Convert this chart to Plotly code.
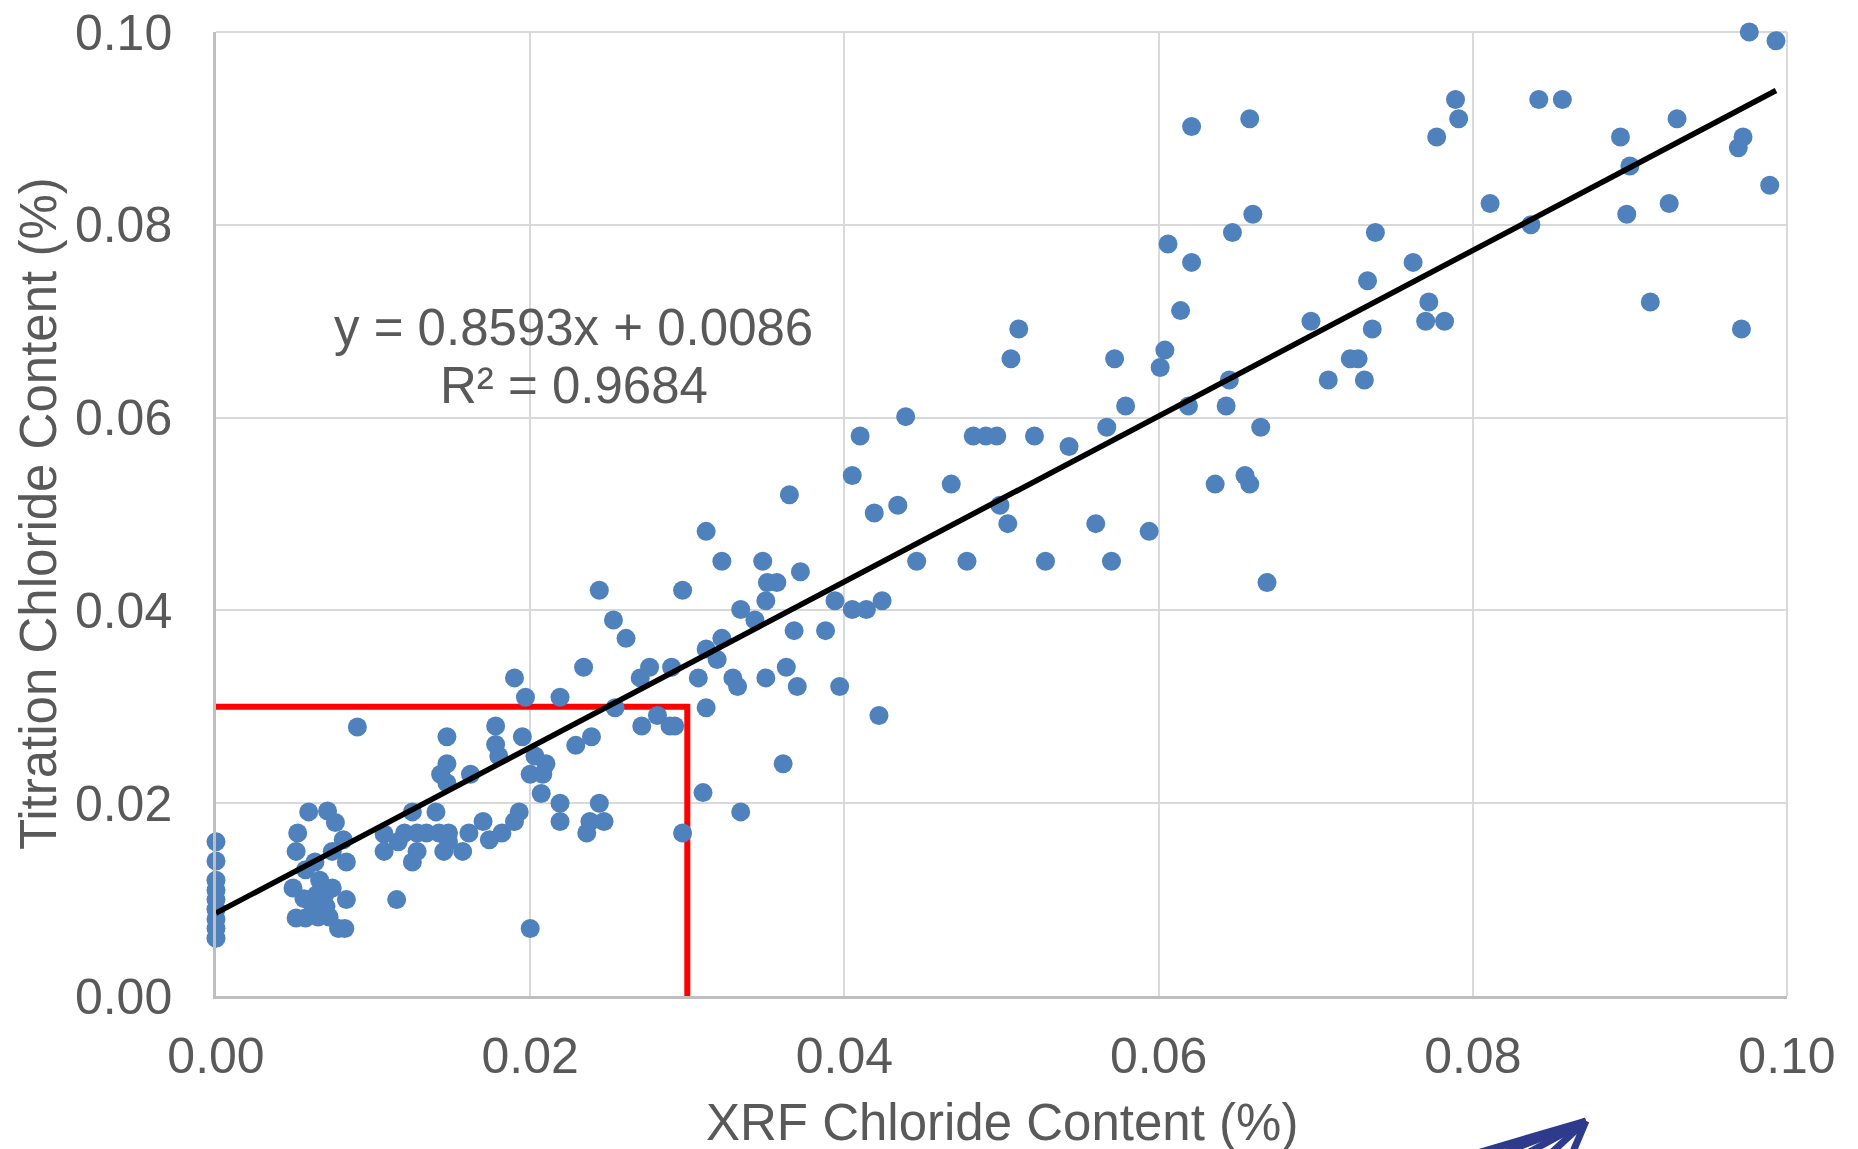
import plotly.graph_objects as go

# XRF chloride content (%) vs titration chloride content (%)
xrf = [
    0.0, 0.0, 0.0, 0.0, 0.0, 0.0, 0.0, 0.0, 0.0,
    0.0059, 0.0071, 0.0076, 0.0052, 0.0051, 0.0081, 0.0074, 0.0083, 0.0063, 0.0057,
    0.0066, 0.0049, 0.0074, 0.0056, 0.0064, 0.0070, 0.0083, 0.0062, 0.0070, 0.0051,
    0.0057, 0.0065, 0.0072, 0.0078, 0.0082,
    0.0107, 0.0116, 0.0107, 0.0120, 0.0128, 0.0134, 0.0125, 0.0140, 0.0125, 0.0128,
    0.0142, 0.0148, 0.0161, 0.0145, 0.0157, 0.0148, 0.0170, 0.0174, 0.0182, 0.0190,
    0.0193, 0.0207, 0.0219, 0.0219, 0.0244, 0.0247, 0.0238, 0.0236, 0.0115, 0.0200,
    0.0147, 0.0147, 0.0143, 0.0147, 0.0162, 0.0178, 0.0178, 0.0180, 0.0195, 0.0203,
    0.0210, 0.0200, 0.0208, 0.0229, 0.0239, 0.0090, 0.0190, 0.0197, 0.0219, 0.0234,
    0.0244, 0.0253, 0.0261, 0.0254, 0.0270, 0.0276, 0.0290, 0.0271, 0.0281, 0.0289,
    0.0292, 0.0297, 0.0312, 0.0307, 0.0312, 0.0319, 0.0322, 0.0329, 0.0332, 0.0350,
    0.0363, 0.0370, 0.0397, 0.0368, 0.0388, 0.0334, 0.0343, 0.0350, 0.0351, 0.0357,
    0.0348, 0.0322, 0.0312, 0.0372, 0.0394, 0.0405, 0.0414, 0.0424, 0.0422, 0.0310,
    0.0361, 0.0334, 0.0297,
    0.0365, 0.0405, 0.0410, 0.0439, 0.0419, 0.0434, 0.0446, 0.0468, 0.0478, 0.0482,
    0.0490, 0.0497, 0.0521, 0.0567, 0.0543, 0.0499, 0.0504, 0.0528, 0.0560, 0.0570,
    0.0594, 0.0669, 0.0579, 0.0619, 0.0643, 0.0665, 0.0636, 0.0655, 0.0658, 0.0645,
    0.0506, 0.0511, 0.0572, 0.0604, 0.0601, 0.0614, 0.0621, 0.0606, 0.0647, 0.0660,
    0.0621, 0.0658,
    0.0697, 0.0708, 0.0731, 0.0722, 0.0727, 0.0736, 0.0733, 0.0738, 0.0762, 0.0772,
    0.0770, 0.0782, 0.0777, 0.0789, 0.0791, 0.0811, 0.0837, 0.0842, 0.0857, 0.0894,
    0.0900, 0.0898, 0.0913, 0.0925, 0.0930, 0.0969, 0.0972, 0.0971, 0.0989, 0.0976,
    0.0993,
]
titration = [
    0.016, 0.014, 0.012, 0.011, 0.010, 0.009, 0.008, 0.007, 0.006,
    0.0191, 0.0192, 0.0180, 0.0169, 0.0150, 0.0162, 0.0150, 0.0139, 0.0139, 0.0131,
    0.0120, 0.0112, 0.0112, 0.0101, 0.0105, 0.0107, 0.0100, 0.0091, 0.0093, 0.0081,
    0.0081, 0.0082, 0.0082, 0.0070, 0.0070,
    0.0168, 0.0160, 0.0150, 0.0169, 0.0169, 0.0169, 0.0191, 0.0191, 0.0139, 0.0150,
    0.0169, 0.0169, 0.0169, 0.0150, 0.0150, 0.0160, 0.0181, 0.0162, 0.0169, 0.0181,
    0.0191, 0.0210, 0.0200, 0.0181, 0.0200, 0.0181, 0.0181, 0.0169, 0.0100, 0.0070,
    0.0269, 0.0241, 0.0230, 0.0221, 0.0230, 0.0280, 0.0261, 0.0249, 0.0269, 0.0249,
    0.0241, 0.0230, 0.0230, 0.0260, 0.0269, 0.0279, 0.0330, 0.0310, 0.0310, 0.0341,
    0.0421, 0.0390, 0.0371, 0.0299, 0.0330, 0.0341, 0.0341, 0.0280, 0.0291, 0.0280,
    0.0280, 0.0421, 0.0299, 0.0330, 0.0360, 0.0349, 0.0371, 0.0330, 0.0321, 0.0330,
    0.0341, 0.0321, 0.0321, 0.0379, 0.0379, 0.0401, 0.0390, 0.0410, 0.0429, 0.0429,
    0.0451, 0.0451, 0.0482, 0.0440, 0.0410, 0.0401, 0.0401, 0.0410, 0.0291, 0.0211,
    0.0241, 0.0191, 0.0169,
    0.0520, 0.0540, 0.0581, 0.0601, 0.0501, 0.0509, 0.0451, 0.0531, 0.0451, 0.0581,
    0.0581, 0.0581, 0.0581, 0.0590, 0.0570, 0.0509, 0.0490, 0.0451, 0.0490, 0.0451,
    0.0482, 0.0429, 0.0612, 0.0612, 0.0612, 0.0590, 0.0531, 0.0540, 0.0531, 0.0639,
    0.0661, 0.0692, 0.0661, 0.0670, 0.0652, 0.0711, 0.0761, 0.0780, 0.0792, 0.0811,
    0.0902, 0.0910,
    0.0700, 0.0639, 0.0639, 0.0661, 0.0661, 0.0692, 0.0742, 0.0792, 0.0761, 0.0720,
    0.0700, 0.0700, 0.0891, 0.0930, 0.0910, 0.0822, 0.0800, 0.0930, 0.0930, 0.0891,
    0.0861, 0.0811, 0.0720, 0.0822, 0.0910, 0.0880, 0.0891, 0.0692, 0.0841, 0.1000,
    0.0991,
]

# Linear trendline (from the chart's equation) and the 0.03 % limit box
slope = 0.8593
intercept = 0.0086
r_squared = 0.9684
limit = 0.03

tick_vals = [0.00, 0.02, 0.04, 0.06, 0.08, 0.10]
tick_text = ["0.00", "0.02", "0.04", "0.06", "0.08", "0.10"]

trend_x = [min(xrf), max(xrf)]
trend_y = [slope * v + intercept for v in trend_x]

TEXT = "#595959"
FONT = "Liberation Sans, Arial, sans-serif"
GRID = "#D9D9D9"

# page body has an 8 px margin; plot area targets x 216..1787, y 32..996
PL, PR, PT, PB = 216, 1787, 32, 996
def px(X):
    return (X - PL) / (PR - PL)
def py(Y):
    return (PB - Y) / (PB - PT)

fig = go.Figure()

fig.add_trace(go.Scatter(
    x=[0, limit, limit], y=[limit, limit, 0], mode="lines",
    line=dict(color="#FF0000", width=6), cliponaxis=False, showlegend=False,
))
fig.add_trace(go.Scatter(
    x=xrf, y=titration, mode="markers",
    marker=dict(size=19, color="#4F81BD", line=dict(width=0)),
    cliponaxis=False, showlegend=False,
))
fig.add_trace(go.Scatter(
    x=trend_x, y=trend_y, mode="lines",
    line=dict(color="#000000", width=5.5), cliponaxis=False, showlegend=False,
))

axis_common = dict(
    range=[0, 0.1], tickvals=tick_vals, ticktext=tick_text,
    showgrid=True, gridcolor=GRID, gridwidth=2,
    zeroline=False, showline=True, linecolor="#BFBFBF", linewidth=2.5,
    ticks="outside", tickcolor="rgba(0,0,0,0)", automargin=False,
    ticklabeloverflow="allow",
    tickfont=dict(family=FONT, size=50, color=TEXT),
)

shapes = [
    # top and right edges of the plot frame (same as gridlines)
    dict(type="line", xref="paper", yref="paper", x0=0, x1=1, y0=1, y1=1,
         line=dict(color=GRID, width=2), layer="below"),
    dict(type="line", xref="paper", yref="paper", x0=1, x1=1, y0=0, y1=1,
         line=dict(color=GRID, width=2), layer="below"),
]
# partial logo fan at the bottom-right edge
for bx in [1474, 1500, 1526, 1550, 1572]:
    shapes.append(dict(
        type="line", xref="paper", yref="paper",
        x0=px(1586), y0=py(1121), x1=px(bx), y1=py(1154),
        line=dict(color="#2E3A8C", width=7),
    ))

fig.update_layout(
    width=1850, height=1141,
    margin=dict(l=208, r=71, t=24, b=153),
    paper_bgcolor="white", plot_bgcolor="white",
    xaxis=dict(**axis_common, ticklen=14),
    yaxis=dict(**axis_common, ticklen=31),
    shapes=shapes,
    annotations=[
        dict(text=f"y = {slope}x + {intercept}", xref="paper", yref="paper",
             x=px(573.5), y=py(327), showarrow=False,
             xanchor="center", yanchor="middle",
             font=dict(family=FONT, size=51, color=TEXT)),
        dict(text=f"R² = {r_squared}", xref="paper", yref="paper",
             x=px(573.5), y=py(385), showarrow=False,
             xanchor="center", yanchor="middle",
             font=dict(family=FONT, size=51, color=TEXT)),
        dict(text="XRF Chloride Content (%)", xref="paper", yref="paper",
             x=0.5, y=py(1122), showarrow=False,
             xanchor="center", yanchor="middle",
             font=dict(family=FONT, size=51, color=TEXT)),
        dict(text="Titration Chloride Content (%)", xref="paper", yref="paper",
             x=px(38), y=0.5, showarrow=False, textangle=-90,
             xanchor="center", yanchor="middle",
             font=dict(family=FONT, size=51, color=TEXT)),
    ],
)

fig.write_html("out.html")
